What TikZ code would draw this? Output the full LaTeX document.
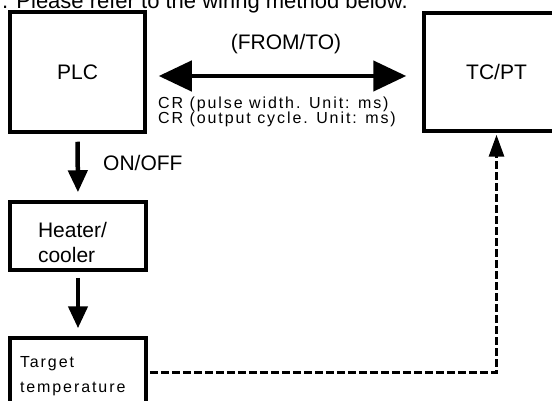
\documentclass[tikz,border=0pt]{standalone}
\usepackage{fontspec}
\setmainfont{Liberation Sans}
\newfontfamily\spfont[LetterSpace=12]{Liberation Sans}
\usetikzlibrary{arrows.meta}
\usetikzlibrary{positioning}

\begin{document}
\begin{tikzpicture}[x=1pt,y=-1pt,
    blk/.style={draw,line width=3.5pt,inner sep=0pt,font=\fontsize{21}{25}\selectfont},
    lbl/.style={inner sep=0pt,font=\fontsize{21}{25}\selectfont},
    small/.style={inner sep=0pt,font=\spfont\fontsize{16}{16}\selectfont},
    downarrow/.style={line width=4.5pt,-{Triangle[length=22pt,width=19pt]}}]
    \useasboundingbox (0,0) rectangle (552,401);

    \node[lbl,anchor=base west,font=\fontsize{22}{25}\selectfont] (title) at (2,8.5) {. Please refer to the wiring method below.};

    \node[blk,minimum width=135pt,minimum height=120pt] (plc) at (77.5,72) {PLC};
    \node[blk,minimum width=145pt,minimum height=118pt] (tcpt) at (496.5,72) {TC/PT};
    \node[blk,text width=80pt,inner xsep=28pt,minimum height=68pt,align=left] (heater) at (78,236)
        {\rule{0pt}{28pt}Heater/\\cooler};
    \node[blk,text width=116pt,inner xsep=10pt,minimum height=77pt,align=left,
        font=\spfont\fontsize{16}{25}\selectfont] (target) at (78,376.5)
        {Target\\temperature};

    % FROM/TO link
    \draw[line width=4.5pt,{Triangle[length=33pt,width=30pt]}-{Triangle[length=33pt,width=30pt]},
        shorten <=12pt,shorten >=16pt] ([yshift=-4pt]plc.east) -- ([yshift=-4pt]tcpt.west);
    \node[lbl,anchor=base] (fromto) at (286,50) {(FROM/TO)};
    \node[small,anchor=base west] (cr1) at (158,109) {CR (pulse width. Unit: ms)};
    \node[small,anchor=base west] (cr2) at (158,124) {CR (output cycle. Unit: ms)};

    \draw[downarrow,shorten <=8pt,shorten >=8pt] (plc.south) -- (heater.north);
    \node[lbl,anchor=base west] (onoff) at (103,171) {ON/OFF};
    \draw[downarrow,shorten <=6pt,shorten >=8pt] (heater.south) -- (target.north);

    % feedback
    \draw[line width=3pt,dash pattern=on 8pt off 3pt,-{Triangle[length=22pt,width=15pt]},
        shorten <=2pt,shorten >=2pt] ([yshift=4.5pt]target.east) -| (tcpt.south);
\end{tikzpicture}
\end{document}
